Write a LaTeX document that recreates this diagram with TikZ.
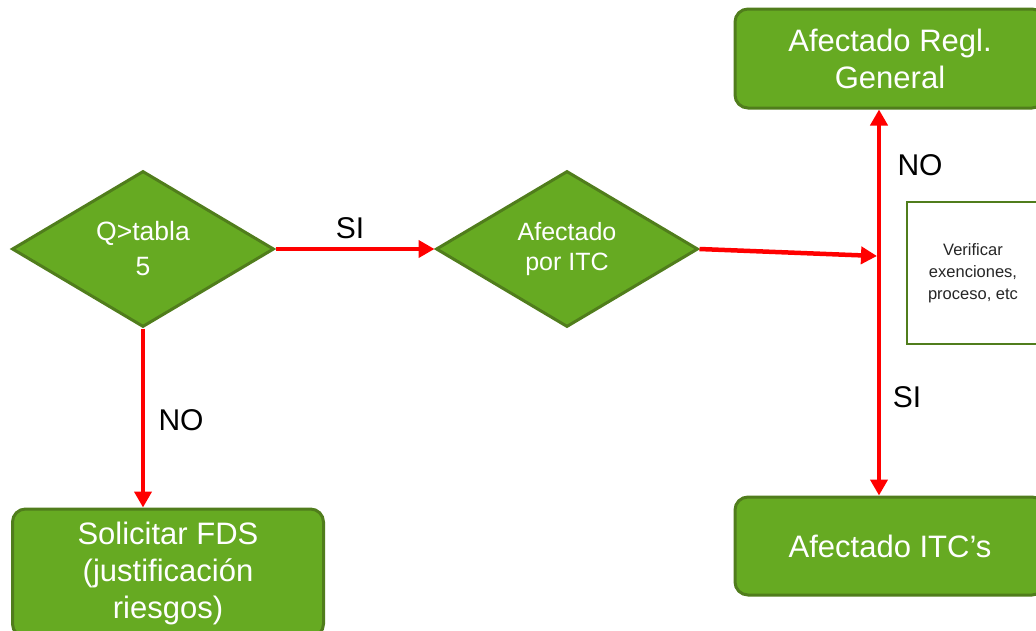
\documentclass[tikz,border=0pt]{standalone}
\usepackage{fontspec}
\setmainfont{Liberation Sans}
\usetikzlibrary{shapes.geometric,arrows.meta}
\definecolor{gfill}{RGB}{102,170,34}
\definecolor{gline}{RGB}{80,125,28}
\definecolor{rline}{RGB}{255,0,0}
\tikzset{
  gbox/.style={draw=gline, line width=3pt, fill=gfill, rounded corners=13pt, text=white, align=center, inner sep=0pt,
    font=\fontsize{31}{37}\selectfont},
  gdia/.style={diamond, aspect=1.68, draw=gline, line width=3pt, fill=gfill, text=white, align=center, inner sep=0pt},
  wbox/.style={draw=gline, line width=2.5pt, fill=white, text=black!85, align=center, inner sep=0pt,
    font=\fontsize{16.5}{22}\selectfont},
  redarrow/.style={draw=rline, line width=4.5pt, -{Triangle[length=16pt,width=17pt]}},
  lbl/.style={font=\fontsize{30}{36}\selectfont, text=black, inner sep=0pt}
}
\begin{document}
\begin{tikzpicture}[x=1pt,y=-1pt]
\useasboundingbox (0,0) rectangle (1036,630);
\clip (0,0) rectangle (1036,630);
\fill[white] (0,0) rectangle (1036,630);
% nodes
\node[gdia, minimum width=262pt, minimum height=156pt, font=\fontsize{26.5}{35}\selectfont] (d1) at (143,249) {Q>tabla\\5};
\node[gdia, minimum width=262pt, minimum height=156pt, font=\fontsize{25}{30}\selectfont] (d2) at (567,249) {Afectado\\por ITC};
\node[gbox, minimum width=310pt, minimum height=99pt] (rg) at (890,58.5) {Afectado Regl.\\General};
\node[gbox, minimum width=310pt, minimum height=98pt] (itc) at (890,546) {Afectado ITC’s};
\node[gbox, minimum width=311pt, minimum height=128pt] (sol) at (168,573) {Solicitar FDS\\(justificación\\riesgos)};
\node[wbox, minimum width=132pt, minimum height=142pt] (ver) at (973,273) {Verificar\\exenciones,\\proceso, etc};
\coordinate (j) at (879,256);
% connectors
\draw[redarrow] (d1.east) -- (d2.west);
\draw[redarrow] (d1.south) -- (sol.north -| d1.south);
\draw[redarrow] (d2.east) -- ([xshift=-2pt]j);
\draw[redarrow] (j) -- (j |- rg.south);
\draw[redarrow] (j) -- (j |- itc.north);
% labels
\node[lbl] (l1) at (350,228) {SI};
\node[lbl] (l2) at (181,420) {NO};
\node[lbl] (l3) at (920,165) {NO};
\node[lbl] (l4) at (907,397) {SI};
\end{tikzpicture}
\end{document}
